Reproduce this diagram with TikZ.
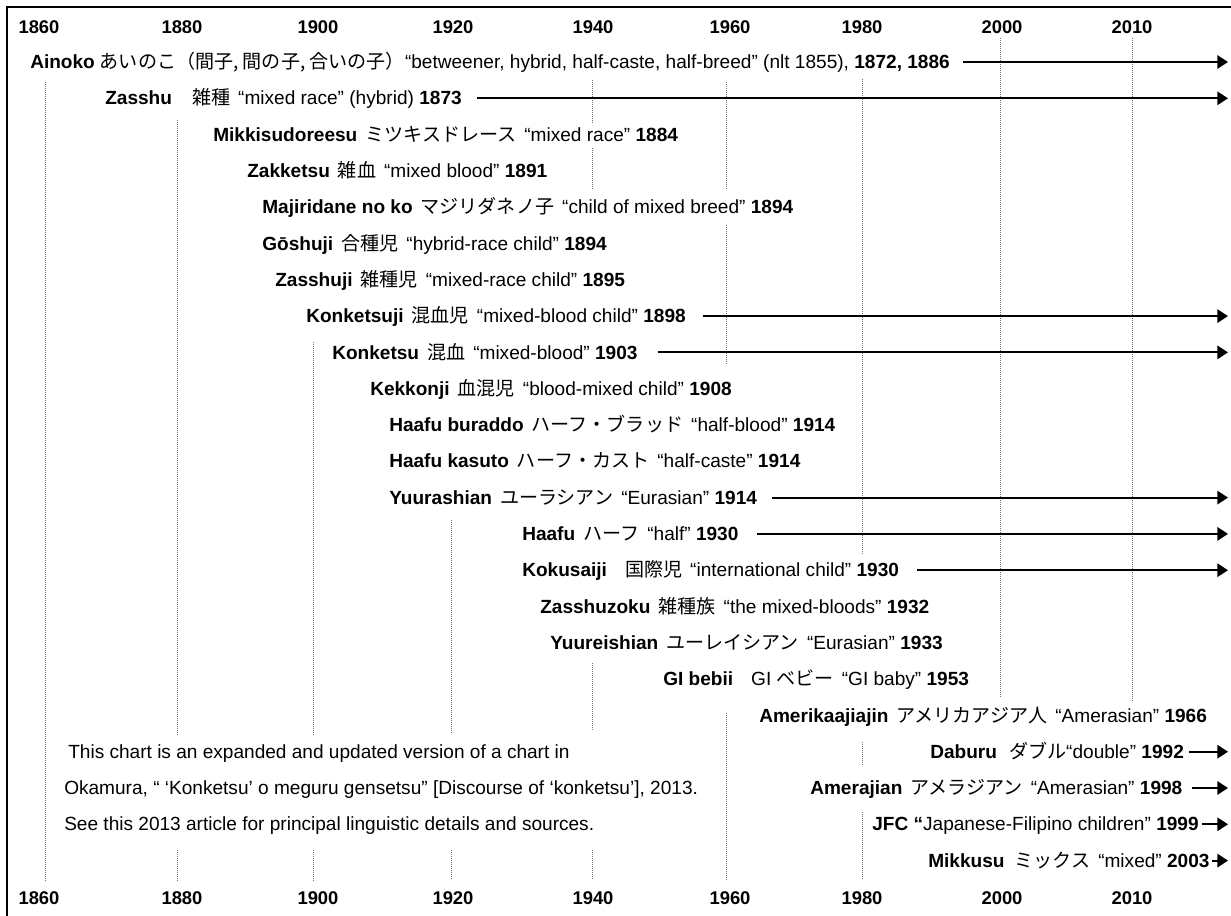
\documentclass[tikz,border=0pt]{standalone}
\usepackage{fontspec}
\setmainfont{Liberation Sans}
\newfontfamily\jp{Noto Sans CJK JP}
\usetikzlibrary{arrows.meta}
\newdimen\pu \pu=0.75pt
\newcommand\hsp[1]{\hspace{#1\pu}}
\newcommand\myfs{\fontsize{14.3pt}{16.5pt}\selectfont}
\newcommand\yrfs{\fontsize{13.8pt}{16pt}\selectfont}
\tikzset{
  row/.style={anchor=west, inner sep=0pt, text height=10pt, text depth=0pt, font=\myfs},
  yr/.style={inner sep=0pt, text height=10pt, text depth=0pt, font=\yrfs\bfseries},
  grid/.style={black!55, line width=0.75pt, dash pattern=on 0.75pt off 0.75pt},
  arr/.style={line width=1.5pt, -{Triangle[length=8pt,width=10pt]}},
  frame/.style={line width=1.5pt},
}
\begin{document}
\begin{tikzpicture}[x=0.75pt, y=-0.75pt]
\fill[white] (0,0) rectangle (1231,916);
\useasboundingbox (0,0) rectangle (1231,916);
% frame
\draw[frame] (7,916) -- (7,7) -- (1231,7);
% grid lines
\draw[grid] (45,82) -- (45,882);
\draw[grid] (177,120) -- (177,736) (177,850) -- (177,882);
\draw[grid] (313,342) -- (313,735) (313,850) -- (313,882);
\draw[grid] (451,520) -- (451,733) (451,850) -- (451,880);
\draw[grid] (592,80) -- (592,123) (592,148) -- (592,190) (592,663) -- (592,730) (592,850) -- (592,880);
\draw[grid] (726,82) -- (726,190) (726,225) -- (726,365) (726,713) -- (726,880);
\draw[grid] (862,79) -- (862,555) (862,742) -- (862,766) (862,812) -- (862,880);
\draw[grid] (1000,38) -- (1000,698);
\draw[grid] (1132,38) -- (1132,701);
% year labels
\foreach \yv/\xv in {1860/39,1880/182,1900/318,1920/453,1940/593,1960/730,1980/862,2000/1002,2010/1132}{
  \node[yr] (t\yv) at (\xv,27) {\yv};
  \node[yr] (b\yv) at (\xv,898) {\yv};
}
% rows
\node[row] (n1) at (30,62) {\textbf{Ainoko}\hsp{5}{\jp あいのこ（間子, 間の子, 合いの子）}“betweener, hybrid, half-caste, half-breed” (nlt 1855), \textbf{1872, 1886}};
\node[row] (n2) at (105,98.3) {\textbf{Zasshu}\hsp{20}{\jp 雑種}\hsp{8}“mixed race” (hybrid) \textbf{1873}};
\node[row] (n3) at (213,134.6) {\textbf{Mikkisudoreesu}\hsp{8}{\jp ミツキスドレース}\hsp{8}“mixed race” \textbf{1884}};
\node[row] (n4) at (247,170.9) {\textbf{Zakketsu}\hsp{8}{\jp 雑血}\hsp{8}“mixed blood” \textbf{1891}};
\node[row] (n5) at (262,207.2) {\textbf{Majiridane no ko}\hsp{8}{\jp マジリダネノ子}\hsp{8}“child of mixed breed” \textbf{1894}};
\node[row] (n6) at (262,243.5) {\textbf{Gōshuji}\hsp{8}{\jp 合種児}\hsp{8}“hybrid-race child” \textbf{1894}};
\node[row] (n7) at (275,279.8) {\textbf{Zasshuji}\hsp{8}{\jp 雑種児}\hsp{8}“mixed-race child” \textbf{1895}};
\node[row] (n8) at (306,316.1) {\textbf{Konketsuji}\hsp{8}{\jp 混血児}\hsp{8}“mixed-blood child” \textbf{1898}};
\node[row] (n9) at (332,352.4) {\textbf{Konketsu}\hsp{8}{\jp 混血}\hsp{8}“mixed-blood” \textbf{1903}};
\node[row] (n10) at (370,388.7) {\textbf{Kekkonji}\hsp{8}{\jp 血混児}\hsp{8}“blood-mixed child” \textbf{1908}};
\node[row] (n11) at (389,425) {\textbf{Haafu buraddo}\hsp{8}{\jp ハーフ・ブラッド}\hsp{8}“half-blood” \textbf{1914}};
\node[row] (n12) at (389,461.3) {\textbf{Haafu kasuto}\hsp{8}{\jp ハーフ・カスト}\hsp{8}“half-caste” \textbf{1914}};
\node[row] (n13) at (389,497.6) {\textbf{Yuurashian}\hsp{8}{\jp ユーラシアン}\hsp{8}“Eurasian” \textbf{1914}};
\node[row] (n14) at (522,533.9) {\textbf{Haafu}\hsp{8}{\jp ハーフ}\hsp{8}“half” \textbf{1930}};
\node[row] (n15) at (522,570.2) {\textbf{Kokusaiji}\hsp{18}{\jp 国際児}\hsp{8}“international child” \textbf{1930}};
\node[row] (n16) at (540,606.5) {\textbf{Zasshuzoku}\hsp{8}{\jp 雑種族}\hsp{8}“the mixed-bloods” \textbf{1932}};
\node[row] (n17) at (550,642.8) {\textbf{Yuureishian}\hsp{8}{\jp ユーレイシアン}\hsp{8}“Eurasian” \textbf{1933}};
\node[row] (n18) at (663,679.1) {\textbf{GI bebii}\hsp{18}GI {\jp ベビー}\hsp{8}“GI baby” \textbf{1953}};
\node[row] (n19) at (759,715.4) {\textbf{Amerikaajiajin}\hsp{8}{\jp アメリカアジア人}\hsp{8}“Amerasian” \textbf{1966}};
\node[row] (n20) at (930,751.7) {\textbf{Daburu}\hsp{12}{\jp ダブル}“double” \textbf{1992}};
\node[row] (n21) at (810,788) {\textbf{Amerajian}\hsp{8}{\jp アメラジアン}\hsp{8}“Amerasian” \textbf{1998}};
\node[row] (n22) at (872,824.3) {\textbf{JFC “}Japanese-Filipino children” \textbf{1999}};
\node[row] (n23) at (928,860.6) {\textbf{Mikkusu}\hsp{10}{\jp ミックス}\hsp{8}“mixed” \textbf{2003}};
% footnote
\node[row] (f1) at (68,751.7) {This chart is an expanded and updated version of a chart in};
\node[row] (f2) at (64,788) {Okamura, “ ‘Konketsu’ o meguru gensetsu” [Discourse of ‘konketsu’], 2013.};
\node[row] (f3) at (64,824.3) {See this 2013 article for principal linguistic details and sources.};
% arrow ends
\foreach \i/\yy in {1/62,2/98.3,8/316.1,9/352.4,13/497.6,14/533.9,15/570.2,20/751.7,21/788,22/824.3,23/860.6}{
  \coordinate (e\i) at (1228,\yy);
}
\draw[arr, shorten <=9.75pt] (n1.east) -- (e1);
\draw[arr, shorten <=11pt] (n2.east) -- (e2);
\draw[arr, shorten <=12.75pt] (n8.east) -- (e8);
\draw[arr, shorten <=15pt] (n9.east) -- (e9);
\draw[arr, shorten <=11pt] (n13.east) -- (e13);
\draw[arr, shorten <=13.5pt] (n14.east) -- (e14);
\draw[arr, shorten <=13.5pt] (n15.east) -- (e15);
\draw[arr, shorten <=4pt] (n20.east) -- (e20);
\draw[arr, shorten <=7pt] (n21.east) -- (e21);
\draw[arr, shorten <=2.5pt] (n22.east) -- (e22);
\draw[arr, shorten <=1.5pt] (n23.east) -- (e23);
\end{tikzpicture}
\end{document}
